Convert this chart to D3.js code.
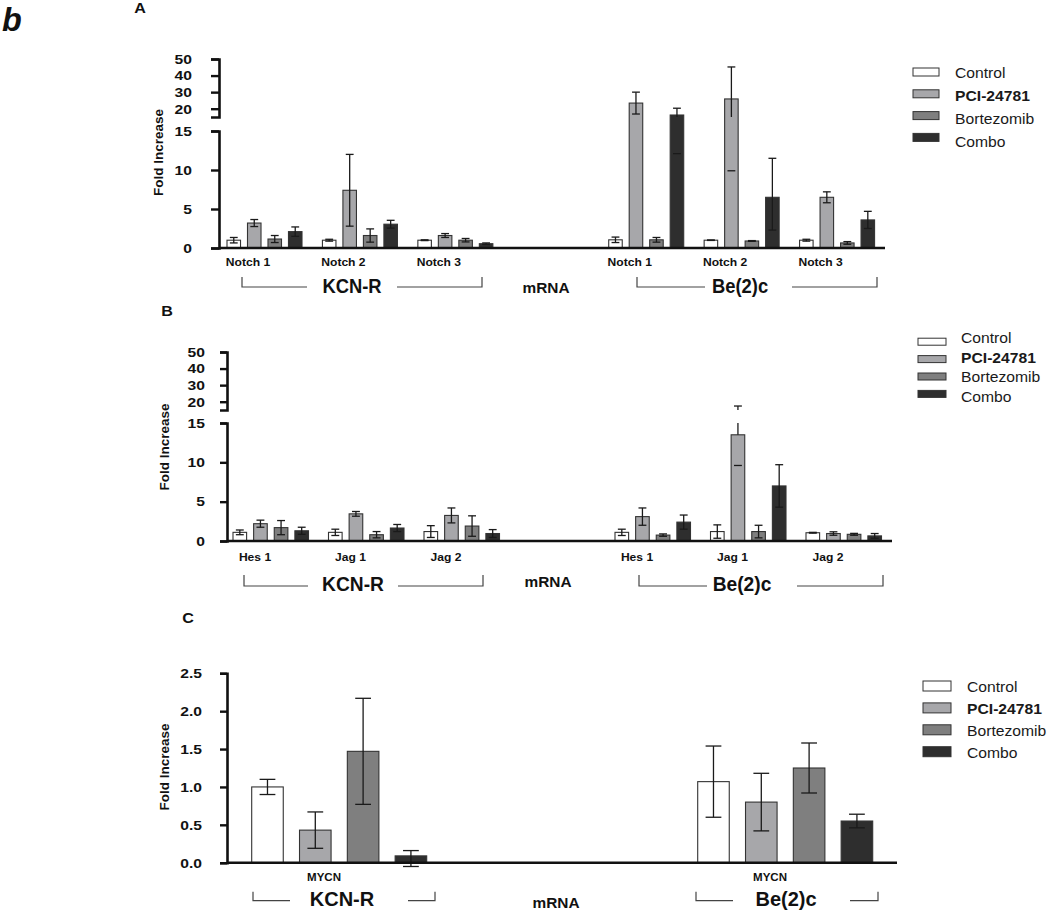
<!DOCTYPE html>
<html><head><meta charset="utf-8">
<script src="https://cdn.jsdelivr.net/npm/d3@7"></script>
<style>body{margin:0;background:#fff} svg{display:block}</style>
</head><body><svg id="c" width="1048" height="910"></svg>
<script>
// ---------------- DATA ----------------
const seriesNames = ["Control", "PCI-24781", "Bortezomib", "Combo"];
const cellLines = ["KCN-R", "Be(2)c"];
const notchGenes = ["Notch 1", "Notch 2", "Notch 3"];
const ligandGenes = ["Hes 1", "Jag 1", "Jag 2"];
const mycnGenes = ["MYCN"];
const breakTicksLow = [0, 5, 10, 15];
const breakTicksHigh = [20, 30, 40, 50];
const mycnTicks = [0, 0.5, 1.0, 1.5, 2.0, 2.5];

// rows = genes, columns = series; error = SEM (or [down, up])
const notchKcnrMean = [[1.0, 3.2, 1.15, 2.1], [1.0, 7.4, 1.6, 3.05], [1.0, 1.6, 1.0, 0.55]];
const notchKcnrErr  = [[0.35, 0.45, 0.45, 0.6], [0.12, 4.6, 0.85, 0.5], [0.05, 0.25, 0.22, 0.1]];
const notchBe2cMean = [[1.05, 23.4, 1.05, 16.2], [1.0, 25.9, 0.9, 6.5], [1.0, 6.5, 0.65, 3.6]];
const notchBe2cErr  = [[0.35, 6.6, 0.3, 4.1], [0.03, [16, 19.3], 0.05, [4.2, 5.0]], [0.12, 0.7, 0.17, 1.1]];

const ligandKcnrMean = [[1.1, 2.2, 1.7, 1.3], [1.1, 3.45, 0.8, 1.65], [1.2, 3.25, 1.9, 0.95]];
const ligandKcnrErr  = [[0.3, 0.45, 0.9, 0.45], [0.4, 0.3, 0.4, 0.45], [0.75, 0.95, 1.3, 0.5]];
const ligandBe2cMean = [[1.1, 3.1, 0.75, 2.4], [1.2, 13.5, 1.2, 7.0], [1.05, 0.95, 0.85, 0.65]];
const ligandBe2cErr  = [[0.4, 1.1, 0.15, 0.9], [0.85, 3.9, 0.8, 2.7], [0.05, 0.22, 0.12, 0.3]];

const mycnKcnrMean = [[1.0, 0.43, 1.47, 0.09]];
const mycnKcnrErr  = [[0.1, 0.24, 0.7, [0.14, 0.07]]];
const mycnBe2cMean = [[1.07, 0.8, 1.25, 0.55]];
const mycnBe2cErr  = [[0.47, 0.38, 0.33, 0.09]];

// ---------------- STYLE ----------------
const seriesColors = ["#ffffff", "#a7a7aa", "#7f7f7f", "#2e2e2e"];
const FONT = '"Liberation Sans", Arial, Helvetica, sans-serif';
const INK = "#111";

const svg = d3.select("#c");
svg.append("rect").attr("width", 1048).attr("height", 910).attr("fill", "#fff");

function label(g, x, y, str, o = {}) {
  return g.append("text")
    .attr("transform", `translate(${x},${y}) scale(${o.sx || 1},1)${o.rotate ? " rotate(" + o.rotate + ")" : ""}`)
    .attr("text-anchor", o.anchor || "middle")
    .attr("dy", o.baseline ? null : "0.36em")
    .attr("font-family", FONT)
    .attr("font-size", o.size || 13)
    .attr("font-weight", o.weight || "bold")
    .attr("font-style", o.style || "normal")
    .attr("fill", o.fill || INK)
    .text(str);
}

const panels = [
  {
    letter: "A", letterPos: [140, 8],
    genes: notchGenes, means: [notchKcnrMean, notchBe2cMean], errs: [notchKcnrErr, notchBe2cErr],
    broken: true, xRange: [219, 887], axisX: 219, baseEnd: 885, barOffset: 8, barSpan: 75,
    y0: 248, yLowTop: 131, yHighBottom: 117, yTop: 59,
    tick: 8, tickPad: 19, capFrac: 0.58,
    labelOffset: 29, catY: 262,
    brY: 287, brTop: 277, brTextY: 285.5, brSx: 0.92,
    brackets: [{ x0: 242, x1: 482, g0: 307, g1: 397, tx: 352 }, { x0: 637, x1: 877, g0: 705, g1: 792, tx: 740 }],
    mrna: [546, 288], title: [158, 152.5],
    legend: { boxX: 913, boxW: 26, boxH: 8, boxY0: 72, boxStep: 21.8, textX: 955, textY0: 72.7, textStep: 23 }
  },
  {
    letter: "B", letterPos: [167, 311],
    genes: ligandGenes, means: [ligandKcnrMean, ligandBe2cMean], errs: [ligandKcnrErr, ligandBe2cErr],
    broken: true, xRange: [227, 895.5], axisX: 227, baseEnd: 892, barOffset: 6, barSpan: 75.5,
    y0: 541, yLowTop: 423, yHighBottom: 410, yTop: 352,
    tick: 7, tickPad: 15, capFrac: 0.58,
    labelOffset: 28, catY: 557,
    brY: 586, brTop: 575, brTextY: 584, brSx: 0.96,
    brackets: [{ x0: 244, x1: 483, g0: 308, g1: 398, tx: 353 }, { x0: 639, x1: 883, g0: 707, g1: 797, tx: 742 }],
    mrna: [548, 582], title: [164, 447],
    legend: { boxX: 918, boxW: 28, boxH: 7, boxY0: 341.7, boxStep: 17.4, textX: 961, textY0: 338.3, textStep: 19.5 }
  },
  {
    letter: "C", letterPos: [188, 618],
    genes: mycnGenes, means: [mycnKcnrMean, mycnBe2cMean], errs: [mycnKcnrErr, mycnBe2cErr],
    broken: false, xRange: [227, 896], axisX: 227, baseEnd: 897, barOffset: 24.7, barSpan: 175,
    y0: 862.7, yTop: 673.3,
    tick: 7, tickPad: 18, capFrac: 0.5,
    labelOffset: 97, catY: 877, catSize: 10.5,
    brY: 900.7, brTop: 891.7, brTextY: 899, brSx: 1.0,
    brackets: [{ x0: 253, x1: 435, g0: 290, g1: 408, tx: 342 }, { x0: 696, x1: 878, g0: 733, g1: 850, tx: 786 }],
    mrna: [556, 903], title: [164, 767],
    legend: { boxX: 923, boxW: 28, boxH: 10, boxY0: 686, boxStep: 21.9, textX: 967, textY0: 687.3, textStep: 21.8 }
  }
];

function drawPanel(p) {
  const g = svg.append("g");
  const slots = [...p.genes.map(d => "K|" + d), "gap", ...p.genes.map(d => "B|" + d)];
  const x = d3.scaleBand().domain(slots).range(p.xRange).padding(0);
  const xs = d3.scaleBand().domain(seriesNames).range([p.barOffset, p.barOffset + p.barSpan]).paddingInner(0.34);
  const BRK = 15;
  let y, yLow, yHigh;
  if (p.broken) {
    yLow = d3.scaleLinear().domain([0, BRK]).range([p.y0, p.yLowTop]);
    yHigh = d3.scaleLinear().domain([BRK, 50]).range([p.yHighBottom, p.yTop]);
    y = v => (v <= BRK ? yLow(v) : yHigh(v));
  } else {
    yLow = d3.scaleLinear().domain([0, 2.5]).range([p.y0, p.yTop]);
    y = yLow;
  }

  const rows = [];
  [0, 1].forEach(c => {
    p.genes.forEach((gene, i) => {
      seriesNames.forEach((s, j) => {
        const e = p.errs[c][i][j];
        const [dn, up] = Array.isArray(e) ? e : [e, e];
        const v = p.means[c][i][j];
        rows.push({ slot: (c === 0 ? "K|" : "B|") + gene, s, j, v, lo: v - dn, hi: v + up });
      });
    });
  });

  // bars
  g.append("g").selectAll("rect").data(rows).join("rect")
    .attr("x", d => x(d.slot) + xs(d.s))
    .attr("width", xs.bandwidth())
    .attr("y", d => y(d.v))
    .attr("height", d => p.y0 - y(d.v))
    .attr("fill", d => seriesColors[d.j])
    .attr("stroke", "#333").attr("stroke-width", 1.1);

  // error bars
  const eg = g.append("g").attr("stroke", "#1a1a1a").attr("stroke-width", 1.3).attr("fill", "none");
  const capW = xs.bandwidth() * p.capFrac;
  rows.forEach(d => {
    const cx = x(d.slot) + xs(d.s) + xs.bandwidth() / 2;
    const segs = [];
    if (!p.broken || d.hi <= BRK) {
      segs.push([y(d.lo), y(d.hi)]);
    } else {
      if (d.v <= BRK) { segs.push([yLow(d.v), yLow(BRK)]); segs.push([yHigh(BRK), yHigh(d.hi)]); }
      else segs.push([yHigh(d.v), yHigh(d.hi)]);
      if (d.v > BRK) segs.push([yHigh(d.v), yHigh(Math.max(d.lo, BRK))]);
    }
    segs.forEach(([a, b]) => eg.append("line").attr("x1", cx).attr("x2", cx).attr("y1", a).attr("y2", b));
    [d.lo, d.hi].forEach(v => eg.append("line")
      .attr("x1", cx - capW / 2).attr("x2", cx + capW / 2).attr("y1", y(v)).attr("y2", y(v)));
  });

  // axes
  function styleAxis(ax) {
    ax.select(".domain").attr("stroke", INK).attr("stroke-width", 2.6);
    ax.selectAll(".tick line").attr("stroke", INK).attr("stroke-width", 2.4);
    ax.selectAll(".tick text").each(function () {
      const t = d3.select(this);
      t.attr("x", null)
        .attr("transform", `translate(${-(p.tick + p.tickPad)},0) scale(1.16,1)`)
        .attr("font-family", FONT).attr("font-size", 13.5).attr("font-weight", "bold").attr("fill", INK);
    });
  }
  if (p.broken) {
    g.append("g").attr("transform", `translate(${p.axisX},0)`)
      .call(d3.axisLeft(yLow).tickValues(breakTicksLow).tickSize(p.tick).tickSizeOuter(p.tick).tickPadding(p.tickPad).tickFormat(d3.format("d")))
      .call(styleAxis);
    g.append("g").attr("transform", `translate(${p.axisX},0)`)
      .call(d3.axisLeft(yHigh).tickValues(breakTicksHigh).tickSize(p.tick).tickSizeOuter(p.tick).tickPadding(p.tickPad).tickFormat(d3.format("d")))
      .call(styleAxis);
  } else {
    g.append("g").attr("transform", `translate(${p.axisX},0)`)
      .call(d3.axisLeft(yLow).tickValues(mycnTicks).tickSize(p.tick).tickSizeOuter(p.tick).tickPadding(p.tickPad).tickFormat(d3.format(".1f")))
      .call(styleAxis);
  }
  // baseline
  g.append("line").attr("x1", p.axisX).attr("x2", p.baseEnd).attr("y1", p.y0).attr("y2", p.y0)
    .attr("stroke", INK).attr("stroke-width", 2.6);

  // category labels
  [0, 1].forEach(c => p.genes.forEach(gene => {
    const key = (c === 0 ? "K|" : "B|") + gene;
    label(g, x(key) + p.labelOffset, p.catY, gene, { size: p.catSize || 11, sx: 1.1 });
  }));

  // brackets
  p.brackets.forEach((b, i) => {
    g.append("path")
      .attr("d", `M${b.x0},${p.brTop}V${p.brY}H${b.g0}M${b.g1},${p.brY}H${b.x1}V${p.brTop}`)
      .attr("fill", "none").attr("stroke", "#444").attr("stroke-width", 1.2);
    label(g, b.tx, p.brTextY, cellLines[i], { size: 20, sx: p.brSx });
  });
  label(g, p.mrna[0], p.mrna[1], "mRNA", { size: 14, sx: 1.1 });

  // title & letter
  label(g, p.title[0], p.title[1], "Fold Increase", { size: 13.5, rotate: -90 });
  label(g, p.letterPos[0], p.letterPos[1], p.letter, { size: 14, sx: 1.15 });

  // legend
  const L = p.legend;
  seriesNames.forEach((s, j) => {
    const cy = L.boxY0 + j * L.boxStep;
    g.append("rect").attr("x", L.boxX).attr("y", cy - L.boxH / 2).attr("width", L.boxW).attr("height", L.boxH)
      .attr("fill", seriesColors[j]).attr("stroke", "#333").attr("stroke-width", 1);
    label(g, L.textX, L.textY0 + j * L.textStep, s,
      { size: 14, sx: 1.12, anchor: "start", weight: j === 1 ? "bold" : "normal", fill: "#1a1a1a" });
  });
}

panels.forEach(drawPanel);

// figure letter
label(svg, 2, 31, "b", { size: 34, weight: "bold", style: "italic", anchor: "start", baseline: true, sx: 0.95 });
</script>
</body></html>
